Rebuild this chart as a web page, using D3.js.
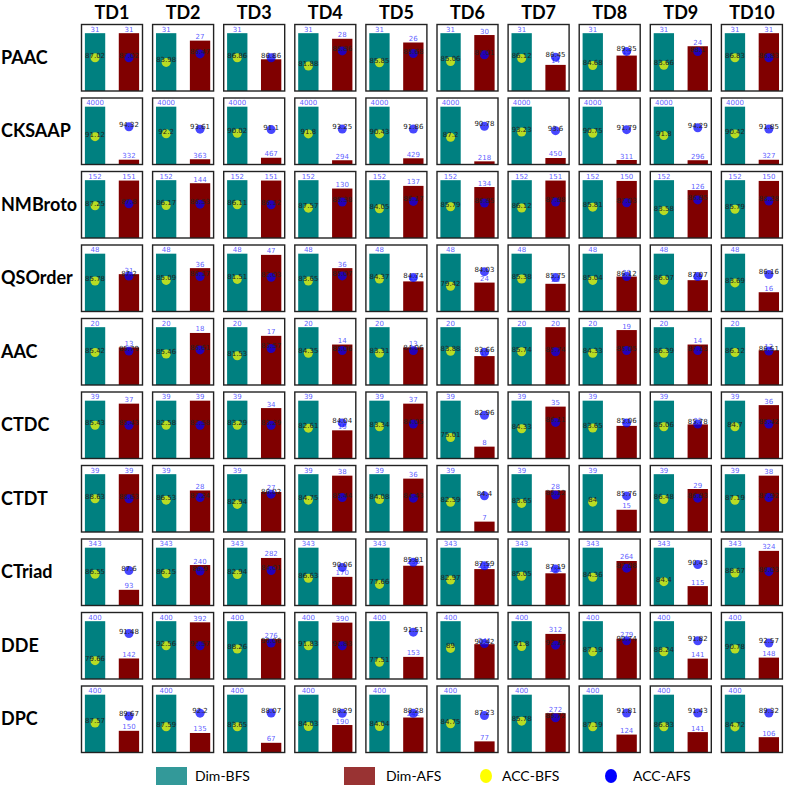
<!DOCTYPE html>
<html>
<head>
<meta charset="utf-8">
<script src="https://cdn.jsdelivr.net/npm/d3@7"></script>
<style>
  body { margin: 0; background: #fff; }
  svg { display: block; }
</style>
</head>
<body>
<div id="main"></div>
<script>
main = "#main"

let width = 787, height = 786

// data
let datasets = ["TD1", "TD2", "TD3", "TD4", "TD5", "TD6", "TD7", "TD8", "TD9", "TD10"]
let methods = ["PAAC", "CKSAAP", "NMBroto", "QSOrder", "AAC", "CTDC", "CTDT", "CTriad", "DDE", "DPC"]

// feature dimension before feature selection (one per method)
let dimBFS = [31, 4000, 152, 48, 20, 39, 39, 343, 400, 400]

// feature dimension after feature selection, rows = methods, cols = TD1..TD10
let dimAFS = [
    [31, 27, 17, 28, 26, 30, 14, 19, 24, 31],
    [332, 363, 467, 294, 429, 218, 450, 311, 296, 327],
    [151, 144, 151, 130, 137, 134, 151, 150, 126, 150],
    [31, 36, 47, 36, 25, 24, 23, 29, 26, 16],
    [13, 18, 17, 14, 13, 10, 20, 19, 14, 12],
    [37, 39, 34, 19, 37, 8, 35, 22, 23, 36],
    [39, 28, 27, 38, 36, 7, 28, 15, 29, 38],
    [93, 240, 282, 170, 236, 216, 191, 264, 115, 324],
    [142, 392, 276, 390, 153, 241, 312, 279, 141, 148],
    [150, 135, 67, 190, 242, 77, 272, 124, 141, 106]
]

// accuracy before feature selection
let accBFS = [
    [87.02, 83.98, 86.86, 81.88, 85.85, 85.06, 86.12, 84.68, 83.66, 86.83],
    [91.12, 92.2, 90.02, 91.8, 90.43, 87.2, 93.23, 90.75, 91.8, 90.42],
    [87.25, 86.17, 86.11, 87.57, 84.05, 85.79, 86.12, 85.81, 83.58, 85.79],
    [85.78, 85.09, 81.51, 83.65, 84.37, 79.42, 85.38, 85.04, 86.07, 83.69],
    [85.42, 85.46, 81.53, 84.35, 83.31, 83.88, 85.74, 84.33, 86.39, 86.12],
    [85.43, 82.58, 83.29, 82.61, 83.34, 75.01, 84.33, 83.65, 85.06, 84.7],
    [88.63, 86.53, 82.94, 84.75, 84.08, 82.59, 83.65, 84.0, 86.48, 87.19],
    [86.55, 86.15, 82.94, 86.63, 77.66, 82.97, 85.05, 84.36, 84.4, 88.67],
    [79.66, 92.56, 88.26, 91.83, 77.51, 89.0, 91.8, 87.19, 88.24, 90.78],
    [87.57, 87.59, 83.65, 84.03, 84.04, 84.75, 85.78, 87.19, 86.83, 84.72]
]

// accuracy after feature selection
let accAFS = [
    [87.02, 86.47, 86.86, 86.86, 88.68, 87.01, 86.45, 89.35, 88.1, 86.83],
    [94.32, 93.61, 91.1, 93.25, 91.86, 90.78, 93.6, 91.79, 94.29, 91.85],
    [87.8, 86.53, 86.12, 89.38, 86.17, 86.85, 87.88, 87.03, 86.85, 88.28],
    [87.2, 86.17, 82.03, 85.07, 84.74, 84.03, 85.75, 86.12, 87.07, 86.16],
    [85.79, 86.61, 83.57, 85.06, 84.06, 83.66, 85.74, 85.05, 87.13, 86.51],
    [85.43, 82.58, 83.29, 84.04, 84.05, 82.96, 86.11, 85.06, 85.78, 85.42],
    [88.63, 87.24, 86.02, 85.44, 84.43, 84.4, 86.12, 85.76, 86.83, 87.92],
    [87.6, 86.9, 84.01, 90.06, 85.81, 87.59, 87.19, 87.08, 90.43, 89.03],
    [91.48, 92.57, 90.06, 91.83, 91.51, 90.42, 92.17, 90.74, 91.82, 92.57],
    [89.67, 92.2, 88.07, 88.29, 88.28, 87.23, 86.72, 91.81, 91.43, 89.32]
]

// grid geometry
let grid = {left: 81.5, top: 24.5, colStep: 71.1, rowStep: 73.5},
    pw = 61, ph = 66.5

let svg = d3.select(main)
    .append("svg")
    .attr("width", width)
    .attr("height", height)
    .style("font-family", "'DejaVu Sans', sans-serif")

// column titles
svg.selectAll("text.colTitle")
    .data(datasets)
    .enter()
    .append("text")
    .attr("class", "colTitle")
    .attr("x", (d, i) => grid.left + i * grid.colStep + pw / 2)
    .attr("y", 19)
    .attr("text-anchor", "middle")
    .attr("font-family", "Lato, sans-serif")
    .attr("font-weight", "bold")
    .attr("font-size", "18px")
    .text(d => d)

// row titles
svg.selectAll("text.rowTitle")
    .data(methods)
    .enter()
    .append("text")
    .attr("class", "rowTitle")
    .attr("x", 1)
    .attr("y", (d, j) => grid.top + j * grid.rowStep + ph / 2 + 6)
    .attr("font-family", "Lato, sans-serif")
    .attr("font-weight", "bold")
    .attr("font-size", "18px")
    .text(d => d)

let x = d3.scaleLinear().domain([-0.4, 1.4]).range([0, pw])
let barW = x(0.3) - x(0)

methods.forEach((m, j) => {
    datasets.forEach((t, i) => {
        let dims = [dimBFS[j], dimAFS[j][i]]
        let accs = [accBFS[j][i], accAFS[j][i]]

        let yDim = d3.scaleLinear().domain([0, d3.max(dims) * 1.15]).range([ph, 0])
        let yAcc = d3.scaleLinear().domain([d3.min(accs) * 0.9, d3.max(accs) * 1.1]).range([ph, 0])

        let g = svg.append("g")
            .attr("transform", "translate(" + (grid.left + i * grid.colStep) + "," + (grid.top + j * grid.rowStep) + ")")

        g.append("rect")
            .attr("width", pw)
            .attr("height", ph)
            .attr("fill", "#fff")

        g.selectAll("rect.bar")
            .data(dims)
            .enter()
            .append("rect")
            .attr("class", "bar")
            .attr("x", (d, k) => x(k) - barW)
            .attr("y", d => yDim(d))
            .attr("width", barW * 2)
            .attr("height", d => ph - yDim(d))
            .attr("fill", (d, k) => k === 0 ? "#008080" : "#800000")

        g.selectAll("text.dim")
            .data(dims)
            .enter()
            .append("text")
            .attr("class", "dim")
            .attr("x", (d, k) => x(k))
            .attr("y", d => yDim(d) - 1.5)
            .attr("text-anchor", "middle")
            .attr("font-size", "7px")
            .attr("fill", "#3333ff")
            .attr("fill-opacity", 0.8)
            .text(d => d)

        g.selectAll("circle")
            .data(accs)
            .enter()
            .append("circle")
            .attr("cx", (d, k) => x(k))
            .attr("cy", d => yAcc(d))
            .attr("r", 4.5)
            .attr("fill", (d, k) => k === 0 ? "#ffff00" : "#0000ff")
            .attr("fill-opacity", 0.72)

        g.selectAll("text.acc")
            .data(accs)
            .enter()
            .append("text")
            .attr("class", "acc")
            .attr("x", (d, k) => x(k))
            .attr("y", d => yAcc(d))
            .attr("text-anchor", "middle")
            .attr("font-size", "7px")
            .attr("fill", "#222")
            .text(d => d)

        g.append("rect")
            .attr("width", pw)
            .attr("height", ph)
            .attr("fill", "none")
            .attr("stroke", "#222")
            .attr("stroke-width", 1.4)
    })
})

// legend
let legendY = 776
let legend = svg.append("g").attr("font-family", "Lato, sans-serif").attr("font-size", "14px")

legend.append("rect").attr("x", 156).attr("y", legendY - 9).attr("width", 31).attr("height", 18)
    .attr("fill", "#008080").attr("fill-opacity", 0.8)
legend.append("text").attr("x", 195).attr("y", legendY + 5).text("Dim-BFS")

legend.append("rect").attr("x", 344).attr("y", legendY - 9).attr("width", 31).attr("height", 18)
    .attr("fill", "#800000").attr("fill-opacity", 0.8)
legend.append("text").attr("x", 386).attr("y", legendY + 5).text("Dim-AFS")

legend.append("ellipse").attr("cx", 486).attr("cy", legendY).attr("rx", 6).attr("ry", 7).attr("fill", "#ffff00")
legend.append("text").attr("x", 502).attr("y", legendY + 5).text("ACC-BFS")

legend.append("ellipse").attr("cx", 611).attr("cy", legendY).attr("rx", 6).attr("ry", 7).attr("fill", "#0000ff")
legend.append("text").attr("x", 633).attr("y", legendY + 5).text("ACC-AFS")
</script>
</body>
</html>
